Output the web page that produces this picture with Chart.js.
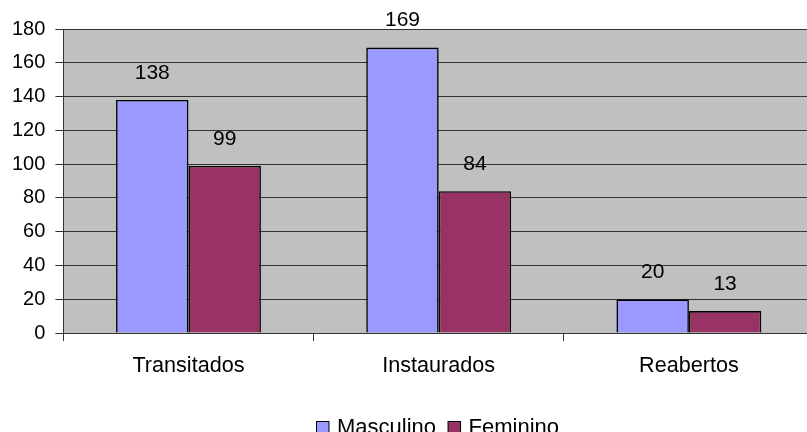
<!DOCTYPE html>
<html>
<head>
<meta charset="utf-8">
<script src="https://cdn.jsdelivr.net/npm/chart.js@4/dist/chart.umd.min.js"></script>
<style>
  html, body { margin: 0; padding: 0; background: #fff; overflow: hidden; }
  #wrap { width: 807px; height: 432px; overflow: hidden; position: relative; }
  #box { width: 822px; height: 432px; position: absolute; left: 0; top: 0; }
</style>
</head>
<body>
<div id="wrap"><div id="box"><canvas id="c"></canvas></div></div>
<script>
const categories = ['Transitados', 'Instaurados', 'Reabertos'];
const masculino = [138, 169, 20];
const feminino = [99, 84, 13];
const yTicks = [0, 20, 40, 60, 80, 100, 120, 140, 160, 180];

const FONT = "'Liberation Sans', Arial, sans-serif";

// Grey plotting area behind the bars
const plotBackground = {
  id: 'plotBackground',
  beforeDraw(chart) {
    const { ctx, chartArea: a } = chart;
    ctx.save();
    ctx.fillStyle = '#C0C0C0';
    ctx.fillRect(a.left, a.top, a.right - a.left, a.bottom - a.top);
    ctx.restore();
  }
};

// Value written above each bar
const valueLabels = {
  id: 'valueLabels',
  afterDatasetsDraw(chart) {
    const { ctx } = chart;
    ctx.save();
    ctx.font = '21px ' + FONT;
    ctx.fillStyle = '#000';
    ctx.textAlign = 'center';
    ctx.textBaseline = 'middle';
    chart.data.datasets.forEach((ds, i) => {
      chart.getDatasetMeta(i).data.forEach((bar, j) => {
        ctx.fillText(String(ds.data[j]), bar.x, bar.y - 27);
      });
    });
    ctx.restore();
  }
};

// Legend row under the category labels: square swatch then series name
const bottomLegend = {
  id: 'bottomLegend',
  afterDraw(chart) {
    const { ctx } = chart;
    const box = 12.5, gapText = 8, gapItem = 12;
    const baseline = 433.5, boxTop = 421.5;
    let x = 316.5;
    ctx.save();
    ctx.font = '22px ' + FONT;
    ctx.textBaseline = 'alphabetic';
    ctx.textAlign = 'left';
    chart.data.datasets.forEach(ds => {
      ctx.fillStyle = ds.backgroundColor;
      ctx.fillRect(x, boxTop, box, box);
      ctx.strokeStyle = '#000';
      ctx.lineWidth = 1;
      ctx.strokeRect(x, boxTop, box, box);
      x += box + gapText;
      ctx.fillStyle = '#000';
      ctx.fillText(ds.label, x, baseline);
      x += ctx.measureText(ds.label).width + gapItem;
    });
    ctx.restore();
  }
};

new Chart(document.getElementById('c'), {
  type: 'bar',
  data: {
    labels: categories,
    datasets: [
      { label: 'Masculino', data: masculino, backgroundColor: '#9999FF', borderColor: '#000', borderWidth: 1.6 },
      { label: 'Feminino', data: feminino, backgroundColor: '#993366', borderColor: '#000', borderWidth: 1.6 }
    ]
  },
  options: {
    responsive: true,
    maintainAspectRatio: false,
    animation: false,
    layout: { padding: { top: 29, right: 8, left: 2, bottom: 41 } },
    datasets: { bar: { categoryPercentage: 0.579, barPercentage: 1.0 } },
    scales: {
      x: {
        grid: { offset: true, drawOnChartArea: false, drawTicks: true, tickLength: 8, tickColor: '#333', lineWidth: 1 },
        border: { color: '#333', width: 1 },
        ticks: { font: { family: FONT, size: 21.6 }, color: '#000', padding: 12 }
      },
      y: {
        min: 0,
        max: 180,
        afterBuildTicks(axis) { axis.ticks = yTicks.map(v => ({ value: v })); },
        grid: { color: '#333', lineWidth: 1, tickLength: 8, tickColor: '#333' },
        border: { color: '#333', width: 1 },
        ticks: { font: { family: FONT, size: 20 }, color: '#000', padding: 10 }
      }
    },
    plugins: {
      legend: { display: false },
      tooltip: { enabled: false }
    }
  },
  plugins: [plotBackground, valueLabels, bottomLegend]
});
</script>
</body>
</html>
